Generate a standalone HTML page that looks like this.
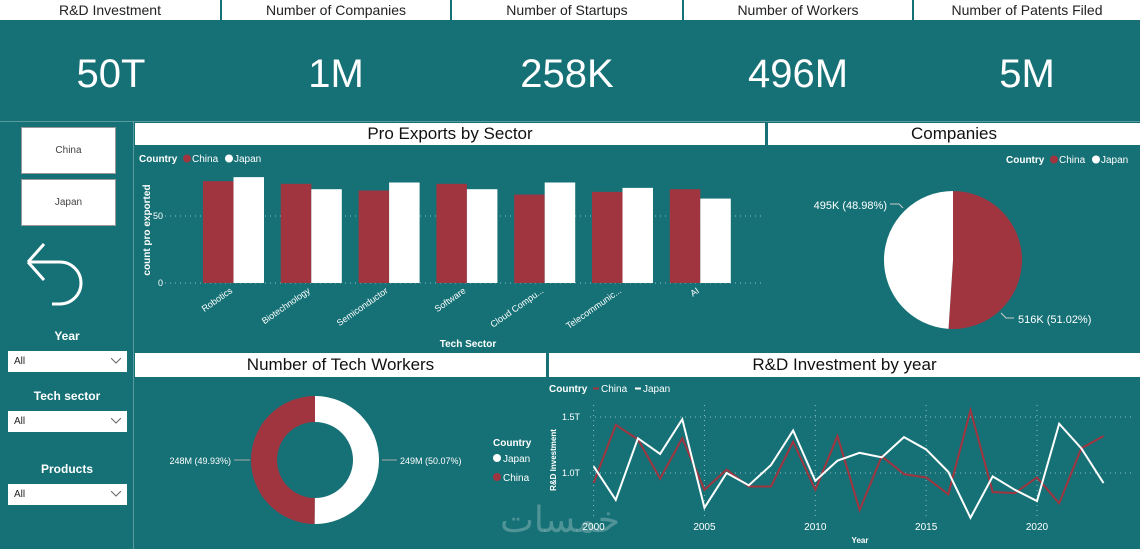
<!DOCTYPE html>
<html><head><meta charset="utf-8"><style>
body{margin:0;width:1140px;height:549px;overflow:hidden;background:#167176;font-family:"Liberation Sans","DejaVu Sans",sans-serif;position:relative}
.a{position:absolute}
.hdr{position:absolute;top:0;height:20px;background:#fff;color:#222;font-size:14px;text-align:center;line-height:20px}
.kpi{position:absolute;top:52px;color:#fff;font-size:40px;text-align:center;font-weight:normal}
.tb{position:absolute;background:#fff;color:#111;font-size:17px;text-align:center}
.btn{position:absolute;left:21px;width:95px;height:47px;background:#fff;border:1px solid #999;box-sizing:border-box;font-size:10px;color:#444;text-align:center;line-height:45px}
.lbl{position:absolute;left:0;width:134px;text-align:center;color:#fff;font-weight:bold;font-size:12px}
.dd{position:absolute;left:8px;width:119px;height:21px;background:#fff;font-size:10px;line-height:21px;padding-left:6px;box-sizing:border-box;color:#222}
.dd svg{position:absolute;right:6px;top:7px}
svg text{font-family:"Liberation Sans",sans-serif}
</style></head><body>
<div class="hdr" style="left:0;width:220px">R&amp;D Investment</div>
<div class="hdr" style="left:222px;width:228px">Number of Companies</div>
<div class="hdr" style="left:452px;width:230px">Number of Startups</div>
<div class="hdr" style="left:684px;width:228px">Number of Workers</div>
<div class="hdr" style="left:914px;width:226px">Number of Patents Filed</div>
<div class="kpi" style="left:0;width:222px">50T</div>
<div class="kpi" style="left:222px;width:228px">1M</div>
<div class="kpi" style="left:452px;width:230px">258K</div>
<div class="kpi" style="left:684px;width:228px">496M</div>
<div class="kpi" style="left:914px;width:226px">5M</div>
<div class="a" style="left:0;top:121px;width:1140px;height:1px;background:#5a9a9e"></div>
<div class="a" style="left:133px;top:122px;width:1px;height:427px;background:#5a9a9e"></div>

<div class="btn" style="top:127px">China</div>
<div class="btn" style="top:179px">Japan</div>
<svg class="a" style="left:22px;top:238px" width="66" height="70"><path d="M6 24 H38 A21 21 0 0 1 38 66 H30 M6 24 L22 6 M6 24 L22 42" stroke="#fff" stroke-width="3" fill="none"/></svg>
<div class="lbl" style="top:329px">Year</div>
<div class="dd" style="top:351px">All<svg width="10" height="6"><path d="M0 0L5 5L10 0" stroke="#666" fill="none"/></svg></div>
<div class="lbl" style="top:389px">Tech sector</div>
<div class="dd" style="top:411px">All<svg width="10" height="6"><path d="M0 0L5 5L10 0" stroke="#666" fill="none"/></svg></div>
<div class="lbl" style="top:462px">Products</div>
<div class="dd" style="top:484px">All<svg width="10" height="6"><path d="M0 0L5 5L10 0" stroke="#666" fill="none"/></svg></div>

<div class="tb" style="left:135px;top:123px;width:630px;height:22px;line-height:22px">Pro Exports by Sector</div>
<div class="tb" style="left:768px;top:123px;width:372px;height:22px;line-height:22px">Companies</div>
<div class="tb" style="left:135px;top:353px;width:411px;height:24px;line-height:24px">Number of Tech Workers</div>
<div class="tb" style="left:549px;top:353px;width:591px;height:24px;line-height:24px">R&amp;D Investment by year</div>

<svg class="a" style="left:0;top:0" width="1140" height="549" id="charts"></svg>
<div class="a" style="left:500px;top:500px;font-size:36px;color:rgba(255,255,255,0.25);font-family:'DejaVu Sans',sans-serif">خمسات</div>
<script>
const sectors=["Robotics","Biotechnology","Semiconductor","Software","Cloud Compu...","Telecommunic...","AI"];
const chinaExports=[76,74,69,74,66,68,70];
const japanExports=[79,70,75,70,75,71,63];
const years=[2000,2001,2002,2003,2004,2005,2006,2007,2008,2009,2010,2011,2012,2013,2014,2015,2016,2017,2018,2019,2020,2021,2022,2023];
const chinaRD=[0.91,1.43,1.30,0.95,1.31,0.85,1.03,0.88,0.88,1.28,0.85,1.33,0.67,1.15,0.99,0.96,0.81,1.56,0.83,0.82,0.96,0.73,1.22,1.33];
const japanRD=[1.06,0.76,1.31,1.17,1.48,0.69,1.00,0.89,1.07,1.38,0.93,1.11,1.18,1.14,1.32,1.21,1.01,0.60,0.97,0.85,0.75,1.44,1.22,0.91];
const companies=[516,495];
const companyLabels=["516K (51.02%)","495K (48.98%)"];
const workers=[249,248];
const workerLabels=["249M (50.07%)","248M (49.93%)"];
const RED="#a0343f",NS="http://www.w3.org/2000/svg",svg=document.getElementById('charts');
function mk(t,a,txt){const e=document.createElementNS(NS,t);for(const k in a)e.setAttribute(k,a[k]);if(txt!==undefined)e.textContent=txt;svg.appendChild(e);return e;}
// bar chart
const by=v=>283-v*67/50, bandX=i=>195+i*77.8;
[0,50].forEach(t=>{let g=mk('line',{x1:165,x2:765,y1:by(t),y2:by(t),stroke:'#8fbfc2','stroke-dasharray':'1 4'});
let l=mk('text',{x:163,y:by(t)+3,fill:'#fff','font-size':9,'text-anchor':'end'},t);});
sectors.forEach((s,i)=>{const x=bandX(i)+8;
let r1=mk('rect',{x:x,y:by(chinaExports[i]),width:30.5,height:283-by(chinaExports[i]),fill:RED});
let r2=mk('rect',{x:x+30.5,y:by(japanExports[i]),width:30.5,height:283-by(japanExports[i]),fill:'#fff'});
let t=mk('text',{x:x+30,y:292,fill:'#fff','font-size':9,'text-anchor':'end',transform:`rotate(-35 ${x+30} 292)`},s);});
let bt=mk('text',{x:468,y:347,fill:'#fff','font-size':10,'font-weight':'bold','text-anchor':'middle'},'Tech Sector');
let byt=mk('text',{x:150,y:230,fill:'#fff','font-size':10,'font-weight':'bold','text-anchor':'middle',transform:'rotate(-90 150 230)'},'count pro exported');
function legend(x,y,items,dot){let t=mk('text',{x:x,y:y,fill:'#fff','font-size':10,'font-weight':'bold'},'Country');
let cx=x+44;items.forEach(([n,c])=>{let m=dot?mk('circle',{cx:cx+4,cy:y-3.5,r:4,fill:c}):mk('line',{x1:cx,x2:cx+6,y1:y-3.5,y2:y-3.5,stroke:c,'stroke-width':2});
let l=mk('text',{x:cx+(dot?9:8),y:y,fill:'#fff','font-size':10},n);cx+=n.length*6+12;});}
legend(139,162,[["China",RED],["Japan","#fff"]],true);
legend(1006,163,[["China",RED],["Japan","#fff"]],true);
legend(549,392,[["China",RED],["Japan","#fff"]],false);
// pie
function arc(cx,cy,r,ri,a0,a1,fill,name){const p=(a,rr)=>[cx+rr*Math.sin(a),cy-rr*Math.cos(a)];const lg=a1-a0>Math.PI?1:0;const [x0,y0]=p(a0,r),[x1,y1]=p(a1,r);let d=`M${x0} ${y0}A${r} ${r} 0 ${lg} 1 ${x1} ${y1}`;
if(ri){const [x2,y2]=p(a1,ri),[x3,y3]=p(a0,ri);d+=`L${x2} ${y2}A${ri} ${ri} 0 ${lg} 0 ${x3} ${y3}Z`;}else d+=`L${cx} ${cy}Z`;let e=mk('path',{d:d,fill:fill});}
const ct=companies[0]+companies[1],ca=companies[0]/ct*2*Math.PI;
arc(953,260,69,0,0,ca,RED,'pie-china');arc(953,260,69,0,ca,2*Math.PI,'#fff','pie-japan');
mk('polyline',{points:'1001,313 1006,318 1014,318',stroke:'#ccc',fill:'none'});mk('polyline',{points:'903,208 899,204 890,204',stroke:'#ccc',fill:'none'});
let pl1=mk('text',{x:1018,y:323,fill:'#fff','font-size':11},companyLabels[0]);
let pl2=mk('text',{x:887,y:209,fill:'#fff','font-size':11,'text-anchor':'end'},companyLabels[1]);
// donut
const wt=workers[0]+workers[1],wa=workers[0]/wt*2*Math.PI;
arc(315,460,64,38,0,wa,'#fff','donut-japan');arc(315,460,64,38,wa,2*Math.PI,RED,'donut-china');
mk('line',{x1:382,x2:397,y1:460,y2:460,stroke:'#aaa'});mk('line',{x1:234,x2:250,y1:460,y2:460,stroke:'#aaa'});
let dl1=mk('text',{x:400,y:464,fill:'#fff','font-size':9},workerLabels[0]);
let dl2=mk('text',{x:231,y:464,fill:'#fff','font-size':9,'text-anchor':'end'},workerLabels[1]);
let dlt=mk('text',{x:493,y:446,fill:'#fff','font-size':10,'font-weight':'bold'},'Country');
[["Japan","#fff",462],["China",RED,481]].forEach(([n,c,y])=>{let m=mk('circle',{cx:497,cy:y-4,r:4,fill:c});let t=mk('text',{x:503,y:y,fill:'#fff','font-size':10},n);});
// line chart
const lx=y=>593.6+(y-2000)*22.17, ly=v=>473-(v-1.0)*112;
[1.0,1.5].forEach(t=>{let g=mk('line',{x1:590,x2:1135,y1:ly(t),y2:ly(t),stroke:'#8fbfc2','stroke-dasharray':'1 4'});
let l=mk('text',{x:580,y:ly(t)+3,fill:'#fff','font-size':9,'text-anchor':'end'},t.toFixed(1)+'T');});
[2000,2005,2010,2015,2020].forEach(y=>{let g=mk('line',{x1:lx(y),x2:lx(y),y1:405,y2:520,stroke:'#8fbfc2','stroke-dasharray':'1 4'});
let l=mk('text',{x:lx(y),y:530,fill:'#fff','font-size':10,'text-anchor':'middle'},y);});
let lxt=mk('text',{x:860,y:543,fill:'#fff','font-size':8,'font-weight':'bold','text-anchor':'middle'},'Year');
let lyt=mk('text',{x:556,y:460,fill:'#fff','font-size':8,'font-weight':'bold','text-anchor':'middle',transform:'rotate(-90 556 460)'},'R&D Investment');
let cl=mk('polyline',{points:years.map((y,i)=>lx(y)+','+ly(chinaRD[i])).join(' '),stroke:RED,'stroke-width':2,fill:'none'});
let jl=mk('polyline',{points:years.map((y,i)=>lx(y)+','+ly(japanRD[i])).join(' '),stroke:'#fff','stroke-width':2,fill:'none'});
</script>
</body></html>
